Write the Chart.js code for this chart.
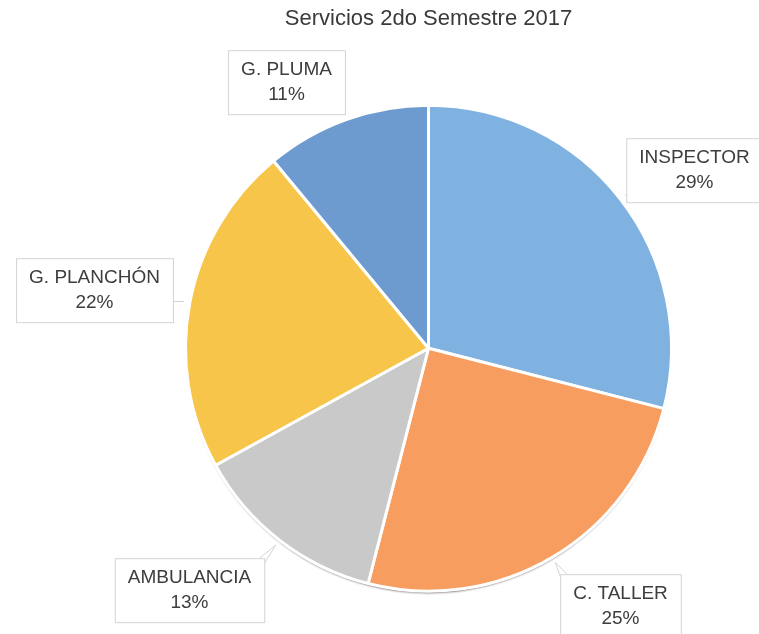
<!DOCTYPE html>
<html>
<head>
<meta charset="utf-8">
<script src="https://cdn.jsdelivr.net/npm/chart.js@4.4.0/dist/chart.umd.min.js"></script>
<style>
  html, body { margin: 0; padding: 0; background: #fff; }
  #wrap { width: 759px; height: 634px; }
</style>
</head>
<body>
<div id="wrap"><canvas id="chart" width="759" height="634"></canvas></div>
<script>
const categories = ["INSPECTOR", "C. TALLER", "AMBULANCIA", "G. PLANCHÓN", "G. PLUMA"];
const percentages = [29, 25, 13, 22, 11];
const sliceColors = ["#7fb2e0", "#f79d60", "#c9c9c9", "#f6c54a", "#6d9bd0"];

// label box centres, relative to the pie centre (style only)
const labelOffsets = [
  [266, -178],
  [192, 258],
  [-239, 242],
  [-334, -58],
  [-142, -266],
];

const calloutLabels = {
  id: "calloutLabels",
  afterDatasetsDraw(chart) {
    const ctx = chart.ctx;
    const meta = chart.getDatasetMeta(0);
    ctx.save();
    ctx.font = "19px 'Liberation Sans', Arial, sans-serif";
    meta.data.forEach((arc, i) => {
      const cx = arc.x + labelOffsets[i][0];
      const cy = arc.y + labelOffsets[i][1];
      const lines = [categories[i], percentages[i] + "%"];
      const w = Math.max(...lines.map((l) => ctx.measureText(l).width)) + 26;
      const h = 64;
      const x0 = cx - w / 2, y0 = cy - h / 2;

      // tail pointing toward the slice
      const mid = (arc.startAngle + arc.endAngle) / 2;
      const tx = arc.x + Math.cos(mid) * (arc.outerRadius + 6);
      const ty = arc.y + Math.sin(mid) * (arc.outerRadius + 6);
      const bx = Math.min(Math.max(tx, x0 + 10), x0 + w - 10);
      const by = Math.min(Math.max(ty, y0 + 10), y0 + h - 10);
      ctx.beginPath();
      ctx.moveTo(bx - 7, by);
      ctx.lineTo(tx, ty);
      ctx.lineTo(bx + 7, by);
      ctx.fillStyle = "#ffffff";
      ctx.strokeStyle = "#d4d4d4";
      ctx.lineWidth = 1;
      ctx.fill();
      ctx.stroke();

      ctx.fillStyle = "#ffffff";
      ctx.fillRect(x0, y0, w, h);
      ctx.strokeRect(x0 + 0.5, y0 + 0.5, w, h);

      ctx.fillStyle = "#3d3d3d";
      ctx.textAlign = "center";
      ctx.textBaseline = "middle";
      ctx.fillText(lines[0], cx, cy - 12);
      ctx.fillText(lines[1], cx, cy + 13);
    });
    ctx.restore();
  },
};

const pieShadow = {
  id: "pieShadow",
  beforeDatasetsDraw(chart) {
    const arc = chart.getDatasetMeta(0).data[0];
    if (!arc) return;
    const ctx = chart.ctx;
    ctx.save();
    ctx.shadowColor = "rgba(60, 40, 40, 0.7)";
    ctx.shadowOffsetY = 3;
    ctx.shadowBlur = 2;
    ctx.beginPath();
    ctx.arc(arc.x, arc.y, arc.outerRadius - 1, 0, Math.PI * 2);
    ctx.fillStyle = "#ffffff";
    ctx.fill();
    ctx.restore();
  },
};

new Chart(document.getElementById("chart"), {
  type: "pie",
  data: {
    labels: categories,
    datasets: [
      {
        data: percentages,
        backgroundColor: sliceColors,
        borderColor: "#ffffff",
        borderWidth: 3,
      },
    ],
  },
  options: {
    responsive: false,
    animation: false,
    layout: { padding: { left: 184, right: 86, top: 0, bottom: 40 } },
    plugins: {
      legend: { display: false },
      tooltip: { enabled: false },
      title: {
        display: true,
        text: "Servicios 2do Semestre 2017",
        color: "#3a3a3a",
        font: { family: "'Liberation Sans', Arial, sans-serif", size: 22, weight: "normal" },
        padding: { top: 6, bottom: 70 },
      },
    },
  },
  plugins: [pieShadow, calloutLabels],
});
</script>
</body>
</html>
